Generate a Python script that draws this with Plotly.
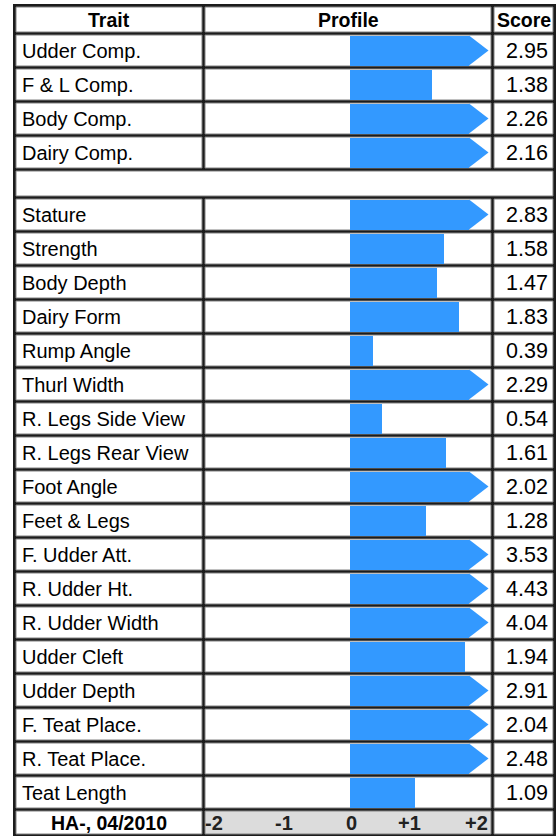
import plotly.graph_objects as go

# ---------------- data ----------------
comp_traits = ["Udder Comp.", "F & L Comp.", "Body Comp.", "Dairy Comp."]
comp_scores = [2.95, 1.38, 2.26, 2.16]
lin_traits = ["Stature", "Strength", "Body Depth", "Dairy Form", "Rump Angle",
              "Thurl Width", "R. Legs Side View", "R. Legs Rear View", "Foot Angle",
              "Feet & Legs", "F. Udder Att.", "R. Udder Ht.", "R. Udder Width",
              "Udder Cleft", "Udder Depth", "F. Teat Place.", "R. Teat Place.",
              "Teat Length"]
lin_scores = [2.83, 1.58, 1.47, 1.83, 0.39, 2.29, 0.54, 1.61, 2.02, 1.28,
              3.53, 4.43, 4.04, 1.94, 2.91, 2.04, 2.48, 1.09]
headers = ["Trait", "Profile", "Score"]
footer_label = "HA-, 04/2010"
tick_labels = ["-2", "-1", "0", "+1", "+2"]
cap = 2.0

# ---------------- layout geometry (pixels) ----------------
W, H = 557, 836
BLUE = "#3399ff"
DARK = "#1c1c1c"
CELL_LINE = "#808080"
col_trait = (16, 202)
col_prof = (205, 491)
col_score = (494, 553)
zero_px, px_per_unit = 350.0, 59.5
tick_px = [214, 284, 351, 409, 476]

header_c, header_h = 19.5, 25
row_h = 31
pitch = 34
comp_c = [50.5 + pitch * i for i in range(len(comp_traits))]
blank_c, blank_h = 183.5, 25
lin_c = [214.5 + pitch * i for i in range(len(lin_traits))]
footer_c, footer_h = 822.5, 23

traits = comp_traits + lin_traits
scores = comp_scores + lin_scores
centers = comp_c + lin_c

shapes = []
# dark table background
shapes.append(dict(type="rect", xref="x", yref="y", x0=13, x1=556, y0=4, y1=840,
                   fillcolor=DARK, line=dict(width=0), layer="below"))


def cell(x0, x1, yc, h, fill="white"):
    shapes.append(dict(type="rect", xref="x", yref="y", x0=x0, x1=x1,
                       y0=yc - h / 2, y1=yc + h / 2, fillcolor=fill,
                       line=dict(color=CELL_LINE, width=1), layer="below"))


for c in [header_c] + centers + [footer_c]:
    h = header_h if c == header_c else (footer_h if c == footer_c else row_h)
    cell(*col_trait, c, h)
    cell(*col_prof, c, h, fill="#dcdcdc" if c == footer_c else "white")
    cell(*col_score, c, h)
cell(col_trait[0], col_score[1], blank_c, blank_h)

ann = []
FONT = "Liberation Sans, Arial, sans-serif"
for name, xc in zip(headers, [sum(col_trait) / 2, sum(col_prof) / 2, sum(col_score) / 2]):
    ann.append(dict(x=xc, y=header_c, xref="x", yref="y", text="<b>%s</b>" % name,
                    showarrow=False, xanchor="center", yanchor="middle",
                    font=dict(family=FONT, size=19.5, color="black")))
for t, s, c in zip(traits, scores, centers):
    ann.append(dict(x=20, y=c, xref="x", yref="y", text=t, showarrow=False,
                    xanchor="left", yanchor="middle",
                    font=dict(family=FONT, size=20, color="black")))
    ann.append(dict(x=550, y=c, xref="x", yref="y", text="%.2f" % s, showarrow=False,
                    xanchor="right", yanchor="middle",
                    font=dict(family=FONT, size=21.5, color="black")))
ann.append(dict(x=sum(col_trait) / 2, y=footer_c, xref="x", yref="y",
                text="<b>%s</b>" % footer_label, showarrow=False,
                font=dict(family=FONT, size=19.5, color="black")))
for lab, xp in zip(tick_labels, tick_px):
    ann.append(dict(x=xp, y=footer_c, xref="x", yref="y", text="<b>%s</b>" % lab,
                    showarrow=False, font=dict(family=FONT, size=20, color="#222")))

fig = go.Figure()
# bars (capped at cap)
fig.add_trace(go.Bar(
    x=[min(s, cap) for s in scores], y=centers, base=0, orientation="h",
    width=30, marker=dict(color=BLUE, line=dict(width=0)),
    xaxis="x2", yaxis="y", hoverinfo="skip", showlegend=False))
# arrow heads for capped values
r = 13
capped = [(c) for s, c in zip(scores, centers) if s > cap]
fig.add_trace(go.Scatter(
    x=[cap + (r / 2) / px_per_unit] * len(capped), y=capped, mode="markers",
    marker=dict(symbol="triangle-right", size=2 * r, color=BLUE, line=dict(width=0)),
    xaxis="x2", yaxis="y", hoverinfo="skip", showlegend=False))

fig.update_layout(
    width=W, height=H, margin=dict(l=0, r=0, t=0, b=0),
    paper_bgcolor="white", plot_bgcolor="rgba(0,0,0,0)",
    xaxis=dict(range=[0, W], visible=False, fixedrange=True),
    yaxis=dict(range=[H, 0], visible=False, fixedrange=True),
    xaxis2=dict(domain=[col_prof[0] / W, col_prof[1] / W],
                range=[(col_prof[0] - zero_px) / px_per_unit, (col_prof[1] - zero_px) / px_per_unit],
                visible=False, anchor="y", fixedrange=True),
    shapes=shapes, annotations=ann, bargap=0,
)
fig.write_html("out.html", post_script="document.body.style.margin='0';document.body.style.overflow='hidden';",
               config={"displayModeBar": False})
